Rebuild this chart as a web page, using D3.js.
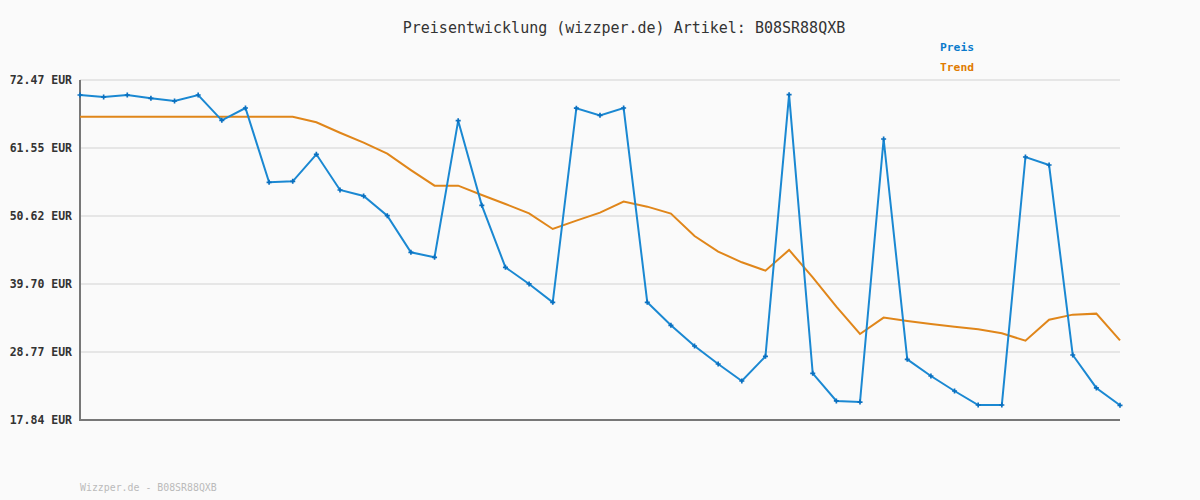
<!DOCTYPE html>
<html><head><meta charset="utf-8">
<script src="https://cdn.jsdelivr.net/npm/d3@7"></script>
<style>body{margin:0;background:#fafafa;} svg{display:block;}</style>
</head><body>
<svg id="c" width="1200" height="500"></svg>
<script>
const title = "Preisentwicklung (wizzper.de) Artikel: B08SR88QXB";
const footer = "Wizzper.de - B08SR88QXB";
const yTicks = [17.84, 28.77, 39.70, 50.62, 61.55, 72.47];
const preis = [70.06,69.74,70.06,69.53,69.10,70.06,65.99,67.97,56.03,56.19,60.53,54.80,53.83,50.67,44.78,43.98,65.93,52.33,42.37,39.70,36.75,67.94,66.79,67.97,36.75,33.05,29.73,26.84,24.11,28.07,70.11,25.34,20.90,20.72,62.99,27.59,24.91,22.50,20.25,20.25,60.10,58.81,28.29,22.99,20.20];
const trend = [66.58,66.58,66.58,66.58,66.58,66.58,66.58,66.58,66.58,66.58,65.67,64.00,62.40,60.63,58.00,55.49,55.49,54.00,52.55,51.05,48.53,49.87,51.16,52.93,52.12,51.00,47.41,44.90,43.18,41.84,45.16,40.77,36.05,31.66,34.29,33.75,33.27,32.84,32.41,31.77,30.59,33.96,34.77,34.93,30.64];

const svg = d3.select("#c");
const font = "'DejaVu Sans Mono', monospace";
const x = d3.scaleLinear().domain([0, preis.length-1]).range([80, 1120]);
const y = d3.scaleLinear().domain([17.84, 72.47]).range([420, 80]);

svg.append("rect").attr("width",1200).attr("height",500).attr("fill","#fafafa");

svg.append("g").selectAll("line").data(yTicks).join("line")
  .attr("x1",80).attr("x2",1120).attr("y1",d=>y(d)).attr("y2",d=>y(d))
  .attr("stroke","#e6e6e6").attr("stroke-width",2);

svg.append("g").selectAll("text").data(yTicks).join("text")
  .attr("x",72).attr("y",d=>y(d)).attr("dy","0.35em").attr("text-anchor","end")
  .attr("font-family",font).attr("font-size","11.5px").attr("font-weight","bold").attr("fill","#333")
  .text(d=>d.toFixed(2)+" EUR");

svg.append("line").attr("x1",80).attr("x2",80).attr("y1",80).attr("y2",420).attr("stroke","#777").attr("stroke-width",2);
svg.append("line").attr("x1",79).attr("x2",1120).attr("y1",420).attr("y2",420).attr("stroke","#777").attr("stroke-width",2);

const line = d3.line().x((d,i)=>x(i)).y(d=>y(d));
svg.append("path").attr("d",line(trend)).attr("fill","none").attr("stroke","#e0861a").attr("stroke-width",2);
svg.append("path").attr("d",line(preis)).attr("fill","none").attr("stroke","#1a88d2").attr("stroke-width",2);

svg.append("g").selectAll("path").data(preis).join("path")
  .attr("transform",(d,i)=>`translate(${x(i)},${y(d)})`)
  .attr("d",d3.symbol(d3.symbolCross,14)())
  .attr("fill","#0a70c0");

svg.append("text").attr("x",624).attr("y",33).attr("text-anchor","middle")
  .attr("font-family",font).attr("font-size","15px").attr("fill","#333").text(title);

svg.append("text").attr("x",940).attr("y",51).attr("font-family",font).attr("font-size","11.3px")
  .attr("font-weight","bold").attr("fill","#0a7acc").text("Preis");
svg.append("text").attr("x",940).attr("y",71).attr("font-family",font).attr("font-size","11.3px")
  .attr("font-weight","bold").attr("fill","#e07b00").text("Trend");

svg.append("text").attr("x",80).attr("y",491).attr("font-family",font).attr("font-size","9.9px")
  .attr("fill","#bbb").text(footer);
</script>
</body></html>
